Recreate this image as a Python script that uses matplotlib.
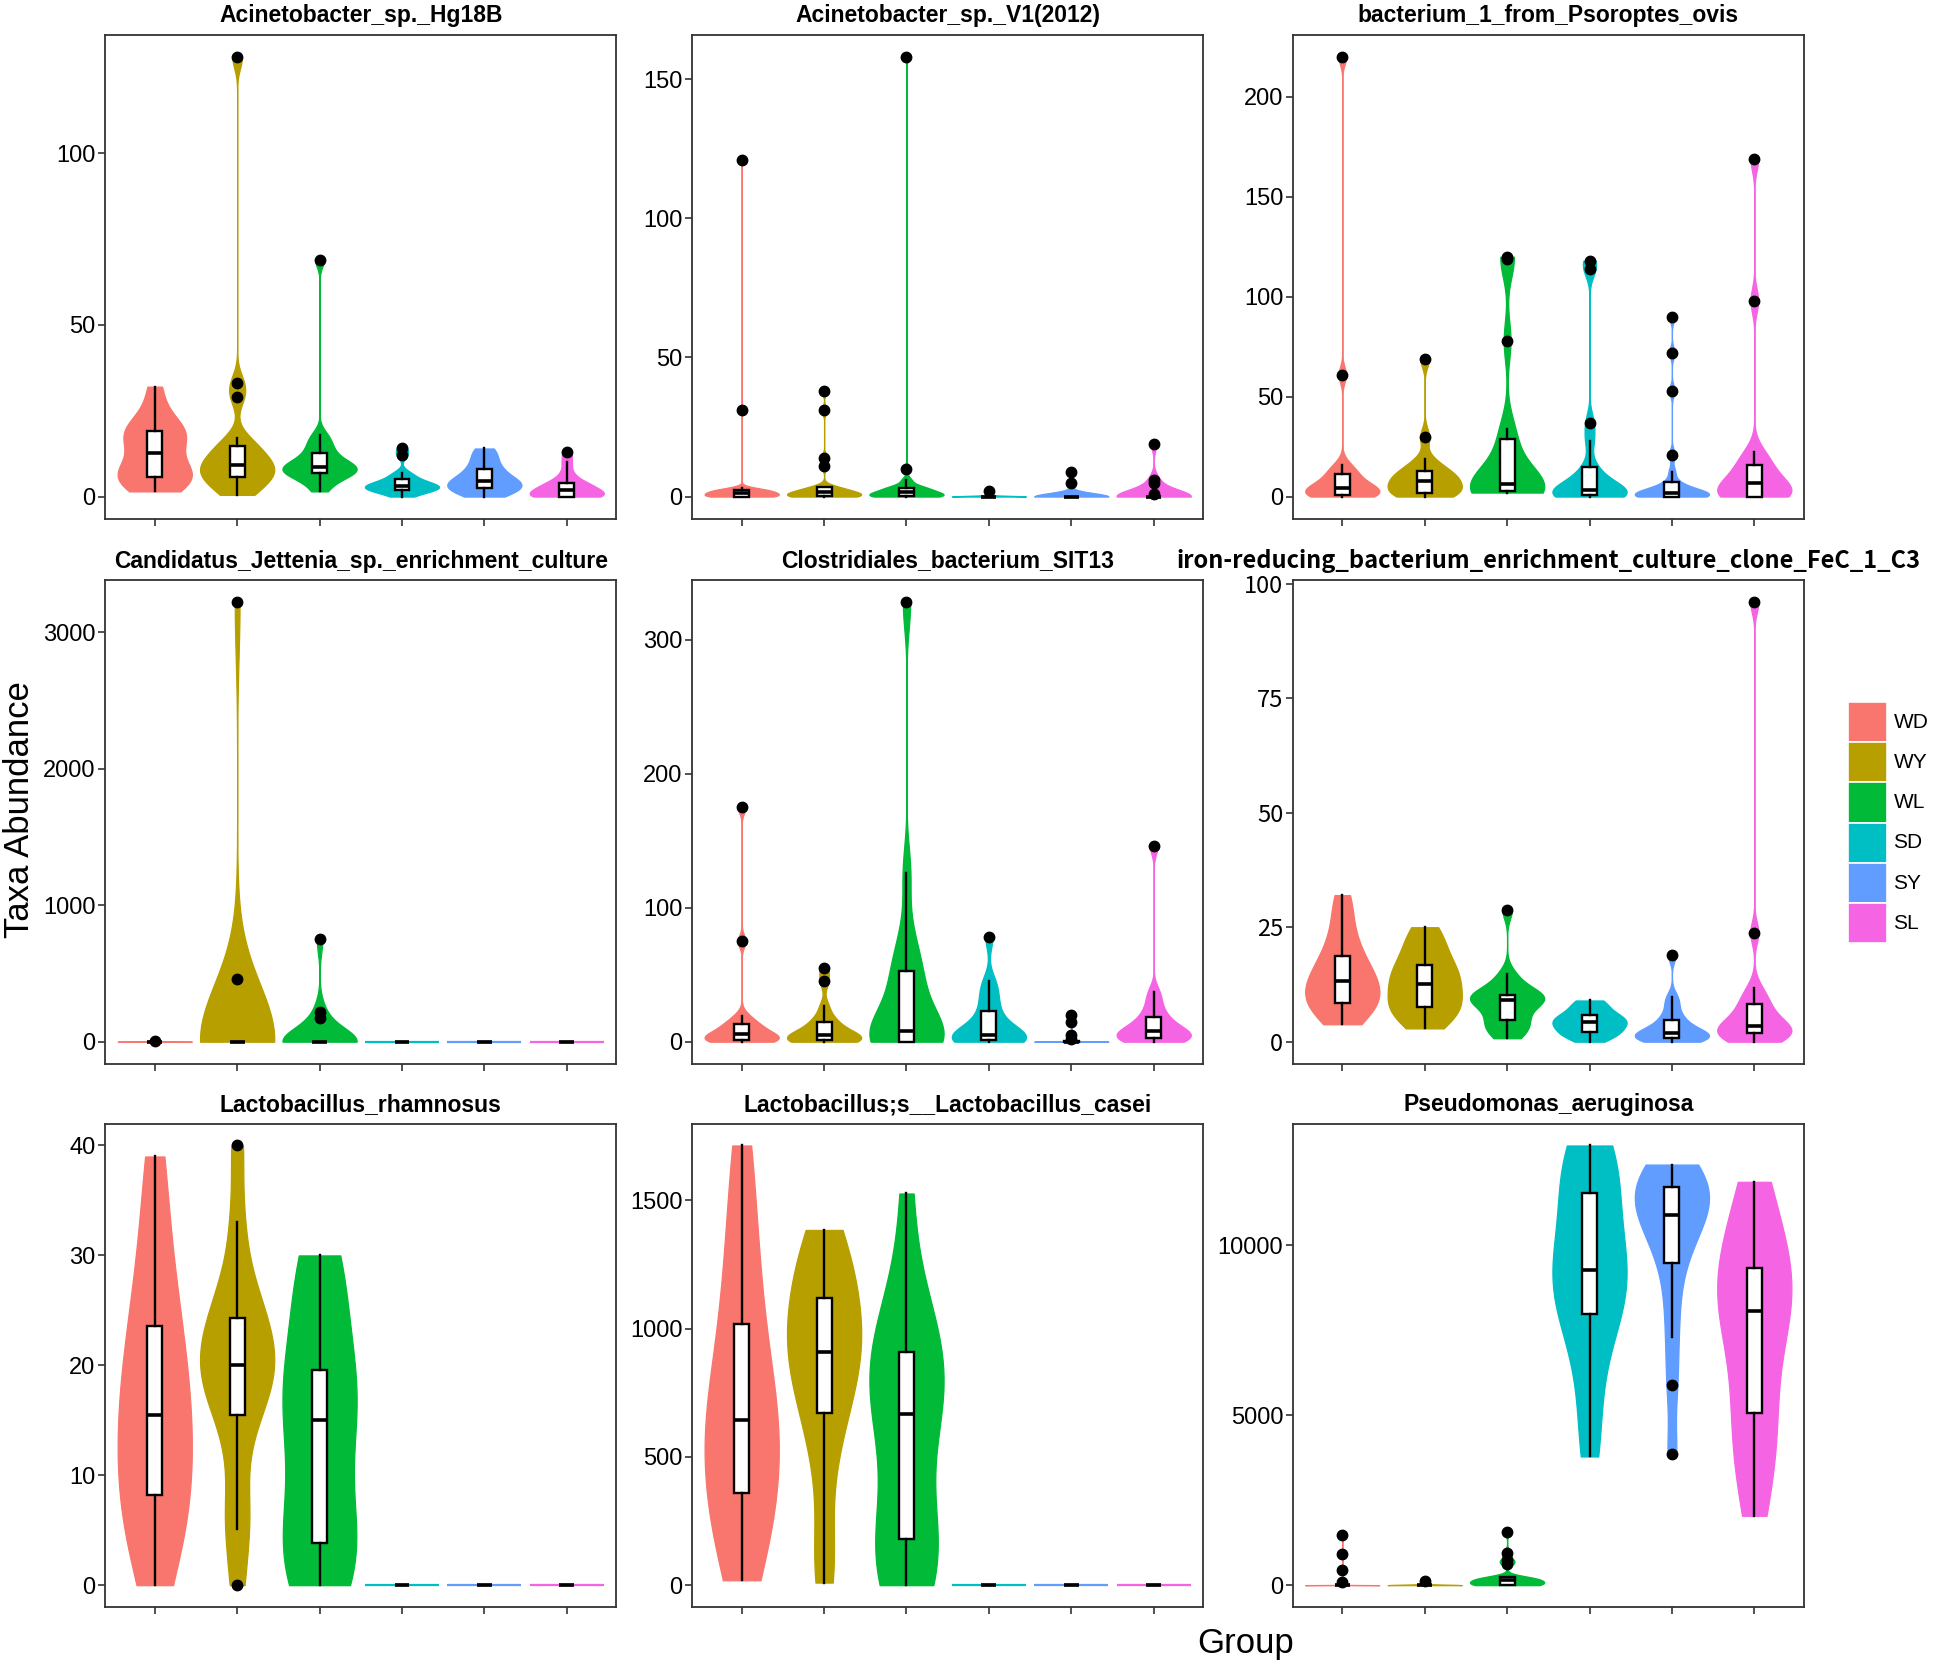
import numpy as np
import matplotlib.pyplot as plt
from matplotlib.patches import Rectangle

plt.rcParams['font.family'] = ['Liberation Sans', 'DejaVu Sans']

groups = ["WD", "WY", "WL", "SD", "SY", "SL"]
colors = ["#F8766D", "#B79F00", "#00BA38", "#00BFC4", "#619CFF", "#F564E3"]

titles = [
    "Acinetobacter_sp._Hg18B",
    "Acinetobacter_sp._V1(2012)",
    "bacterium_1_from_Psoroptes_ovis",
    "Candidatus_Jettenia_sp._enrichment_culture",
    "Clostridiales_bacterium_SIT13",
    "iron-reducing_bacterium_enrichment_culture_clone_FeC_1_C3",
    "Lactobacillus_rhamnosus",
    "Lactobacillus;s__Lactobacillus_casei",
    "Pseudomonas_aeruginosa",
]

yticks = [
    [0, 50, 100],
    [0, 50, 100, 150],
    [0, 50, 100, 150, 200],
    [0, 1000, 2000, 3000],
    [0, 100, 200, 300],
    [0, 25, 50, 75, 100],
    [0, 10, 20, 30, 40],
    [0, 500, 1000, 1500],
    [0, 5000, 10000],
]

# abundance samples per group (WD, WY, WL, SD, SY, SL)
hg18b = [
    [1.5, 3, 4.5, 5.5, 5.8, 6.5, 7.5, 9, 12.6, 15, 17, 18, 19.1, 20, 21, 26, 32],
    [0.5, 2, 3.5, 5, 5.8, 7, 8, 8.5, 9.1, 10.5, 12, 13.5, 14.6, 17, 29, 33, 128],
    [1.5, 4, 5.5, 6.5, 6.8, 7.5, 8, 8.3, 8.6, 9, 10, 11, 12.6, 14, 16, 17.9, 69],
    [0, 1, 1.5, 2, 2, 2.5, 3, 3, 3, 3.5, 4, 4.5, 5, 6, 7, 12, 14],
    [0, 1, 1.5, 2, 2.5, 3, 3.5, 4, 4.5, 5, 5.5, 7, 8, 9, 11, 12.5, 14],
    [0, 0, 0, 0, 0, 0.5, 1, 1.5, 2, 2.5, 3, 3.5, 4, 5, 7, 10, 13],
]
v1_2012 = [
    [0, 0, 0, 0, 0, 0.5, 1, 1, 1.2, 1.5, 2, 2, 2.3, 2.5, 3, 31, 121],
    [0, 0, 0, 0, 0.3, 0.6, 1, 1.2, 1.5, 2, 2.5, 3, 3.5, 11, 14, 31, 38],
    [0, 0, 0, 0, 0.3, 0.5, 1, 1.2, 1.5, 2, 2.5, 3, 3.2, 4, 6, 10, 158],
    [0] * 16 + [2],
    [0] * 15 + [5, 9],
    [0] * 13 + [1, 5, 6, 19],
]
psoroptes = [
    [0, 0.3, 0.5, 0.8, 1, 2, 3, 3.5, 4.3, 5, 7, 9, 11.3, 13, 15.6, 61, 220],
    [0, 0.5, 1, 1.5, 2, 4, 6, 7, 7.8, 9, 10, 12, 13, 15, 18.7, 30, 69],
    [2, 2.2, 2.4, 2.5, 2.6, 3, 4, 5, 6.5, 8, 12, 20, 29, 33.8, 78, 119, 120],
    [0, 0.3, 0.6, 1, 1, 1.5, 2, 2.5, 3.1, 5, 8, 11, 14.7, 28, 37, 114, 118],
    [0, 0, 0, 0, 0, 0, 0.5, 1, 1.3, 1.6, 2, 2.5, 3, 4, 5.5, 7.3, 12.5, 21, 53, 72, 90],
    [0, 0, 0, 0, 0, 1, 3, 5, 6.6, 8, 10, 13, 16, 19, 22.5, 98, 169],
]
jettenia = [
    [0] * 16 + [6],
    [0] * 15 + [460, 3220],
    [0] * 13 + [170, 220, 750],
    [0] * 17,
    [0] * 17,
    [0] * 17,
]
clostridiales = [
    [0, 0.5, 0.8, 1, 1, 2, 3, 4.5, 5.7, 7, 9, 11, 12.9, 15, 19.4, 75, 175],
    [0, 0.3, 0.6, 0.8, 1, 2, 3, 4, 5, 7, 9, 12, 14.7, 18, 26.3, 45, 55],
    [0, 0, 0, 0, 0, 2, 5, 7, 7.7, 20, 35, 45, 52.6, 60, 80, 125.7, 328],
    [0, 0.3, 0.6, 0.8, 1, 2, 3, 4, 5, 8, 12, 17, 23, 30, 38, 45, 78],
    [0] * 12 + [0.5, 2, 5, 15, 20],
    [0, 1, 1.5, 2, 2.6, 4, 5, 6.5, 7.7, 10, 12, 15, 18.6, 23, 30, 37.4, 146],
]
iron_fec = [
    [3.8, 6, 7, 8, 8.5, 10, 11, 12, 13.2, 14, 15.5, 17, 18.7, 21, 24, 28, 32],
    [2.9, 5, 6, 7, 7.5, 9, 10, 11.5, 12.7, 13.5, 15, 16, 16.8, 19, 21, 23, 25],
    [0.75, 2, 3, 4, 4.8, 6, 7.5, 8.5, 9.2, 9.5, 9.8, 10, 10.2, 11, 13, 14.7, 28.8],
    [0, 1, 1.5, 2, 2.1, 3, 3.5, 4, 4.2, 4.5, 5, 5.5, 5.9, 6.5, 7.5, 8.5, 9],
    [0, 0.3, 0.5, 0.7, 0.9, 1.2, 1.5, 1.7, 1.9, 2.5, 3, 4, 4.8, 6, 8, 9.8, 18.9],
    [0, 0.5, 1, 1.5, 1.9, 2.3, 2.7, 3, 3.5, 4.5, 5.5, 7, 8.2, 9.5, 11.7, 23.8, 96],
]
rhamnosus = [
    [0, 3, 5, 7, 8.2, 10, 12, 14, 15.5, 17, 19, 21, 23.6, 26, 29, 34, 39],
    [0, 5.1, 7, 12, 15.5, 17, 18, 19, 20, 21, 22, 23, 24.3, 26, 28, 33, 40],
    [0, 0.5, 1.5, 3, 3.8, 6, 9, 12, 15, 16.5, 17.5, 18.5, 19.6, 24, 27, 29, 30],
    [0] * 17,
    [0] * 17,
    [0] * 17,
]
casei = [
    [19, 120, 220, 300, 358, 450, 520, 590, 645, 700, 780, 900, 1019, 1150, 1300, 1500, 1713],
    [10, 150, 420, 600, 672, 750, 820, 880, 910, 960, 1010, 1070, 1119, 1180, 1250, 1320, 1384],
    [0, 20, 60, 120, 180, 230, 420, 620, 667, 720, 770, 820, 910, 960, 1020, 1150, 1526],
    [0] * 17,
    [0] * 17,
    [0] * 17,
]
pseudomonas = [
    [0] * 12 + [10, 100, 455, 931, 1481],
    [0] * 16 + [127],
    [0, 0, 0, 0, 0, 50, 100, 130, 148, 170, 190, 210, 233, 635, 740, 952, 1566],
    [3788, 5000, 6500, 7500, 7968, 8400, 8800, 9100, 9280, 9600, 10000, 10800, 11556, 12000, 12400, 12700, 12942],
    [3852, 5905, 7302, 8500, 9471, 10000, 10400, 10700, 10900, 11100, 11300, 11500, 11714, 11900, 12100, 12250, 12381],
    [2042, 3000, 4000, 4600, 5079, 6000, 7000, 7600, 8063, 8400, 8700, 9000, 9333, 9800, 10500, 11200, 11873],
]

panels = [hg18b, v1_2012, psoroptes, jettenia, clostridiales, iron_fec,
          rhamnosus, casei, pseudomonas]


def nrd0(x):
    # same rule as R's bw.nrd0 (ggplot default)
    hi = np.std(x, ddof=1)
    q1, q3 = np.percentile(x, [25, 75])
    lo = min(hi, (q3 - q1) / 1.34)
    if lo == 0:
        lo = hi or abs(x[0]) or 1.0
    return 0.9 * lo * len(x) ** -0.2


def draw_violin(ax, vals, pos, color):
    v = np.asarray(vals, float)
    if v.max() == v.min():
        ax.plot([pos - 0.45, pos + 0.45], [v[0], v[0]], color=color, lw=1.6,
                solid_capstyle="butt", zorder=2)
        return
    bw = nrd0(v)
    yy = np.linspace(v.min(), v.max(), 512)
    d = np.exp(-0.5 * ((yy[:, None] - v[None, :]) / bw) ** 2).sum(axis=1)
    w = d / d.max() * 0.45
    ax.fill_betweenx(yy, pos - w, pos + w, facecolor=color, edgecolor=color,
                     lw=0.9, zorder=2)


# axes rectangles (left, bottom) in figure fraction
col_x = [0.054, 0.355, 0.663]
row_y = [0.688, 0.360, 0.033]
aw, ah = 0.262, 0.291

fig = plt.figure(figsize=(19.5, 16.62), dpi=100)

for k, data in enumerate(panels):
    r, c = divmod(k, 3)
    ax = fig.add_axes([col_x[c], row_y[r], aw, ah])
    pos = np.arange(1, 7)
    for i, vals in enumerate(data):
        draw_violin(ax, vals, pos[i], colors[i])
    bp = ax.boxplot(data, positions=pos, widths=0.18, patch_artist=True,
                    showcaps=False, whis=1.5, manage_ticks=False,
                    boxprops=dict(facecolor="white", edgecolor="black", lw=1.7),
                    medianprops=dict(color="black", lw=2.6),
                    whiskerprops=dict(color="black", lw=1.7),
                    flierprops=dict(marker="o", markerfacecolor="black",
                                    markeredgecolor="black", markersize=7.5))
    for art in bp["boxes"] + bp["medians"] + bp["whiskers"] + bp["fliers"]:
        art.set_zorder(3)

    allv = np.concatenate([np.asarray(v, float) for v in data])
    lo, hi = allv.min(), allv.max()
    span = hi - lo
    ax.set_ylim(lo - 0.05 * span, hi + 0.05 * span)
    ax.set_xlim(0.4, 6.6)
    ax.set_xticks(pos)
    ax.set_xticklabels([])
    ax.set_yticks(yticks[k])

    special = (k == 5)
    fam = ["Noto Sans CJK KR", "DejaVu Sans"] if special else ["Liberation Sans", "DejaVu Sans"]
    ax.set_yticklabels([str(t) for t in yticks[k]], fontsize=17, family=fam)
    ax.tick_params(length=5, width=1.2, color="#333333", pad=2)
    for s in ax.spines.values():
        s.set_linewidth(1.3)
        s.set_color("#333333")
    ax.set_title(titles[k], fontsize=17 if special else 16.5, fontweight="bold",
                 family=fam, pad=9)

fig.text(0.010, 0.513, "Taxa Abundance", rotation=90, fontsize=25,
         ha="center", va="center")
fig.text(0.639, 0.011, "Group", fontsize=25, ha="center", va="center")

# legend
key_x, key_w = 0.9477, 0.020
key_top, key_h = 0.5776, 0.0242
for i, g in enumerate(groups):
    y0 = key_top - (i + 1) * key_h
    fig.patches.append(Rectangle((key_x, y0), key_w, key_h, transform=fig.transFigure,
                                 facecolor=colors[i], edgecolor="white", lw=1.2))
    fig.text(0.971, y0 + key_h / 2, g, fontsize=15, va="center", ha="left")

fig.savefig("out.png", dpi=100)
